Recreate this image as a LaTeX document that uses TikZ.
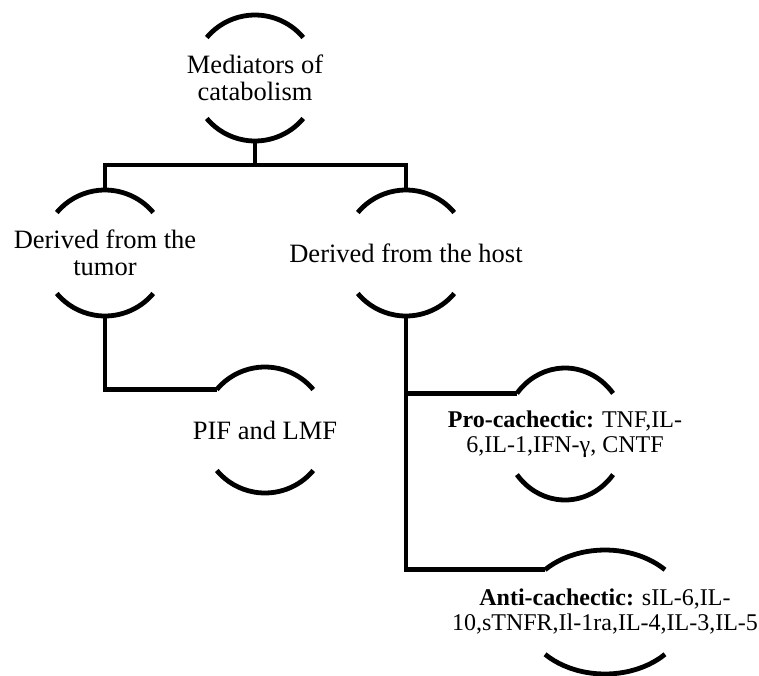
\documentclass[tikz,border=0pt]{standalone}
\usepackage{fontspec}
\setmainfont{Liberation Serif}
\usetikzlibrary{calc}

\begin{document}
\begin{tikzpicture}[x=1pt, y=1pt,
  capline/.style={line width=4.8pt},
  capnode/.style={align=center, inner sep=0pt, minimum height=126pt, font=\fontsize{26.5}{26.5}\selectfont},
  smallcap/.style={capnode, font=\fontsize{24}{25}\selectfont}]
\useasboundingbox (0,0) rectangle (759,-675);
\node[capnode] (med) at (255,-78) {Mediators of\\catabolism};
\node[capnode] (tumor) at (105,-253) {Derived from the\\tumor};
\node[capnode] (host) at (406,-253) {Derived from the host};
\node[capnode] (pif) at (265,-430) {PIF and LMF};
\node[smallcap, minimum height=132pt] (pro) at (565,-434) {\textbf{Pro-cachectic:} TNF,IL-\\6,IL-1,IFN-γ, CNTF};
\node[smallcap, minimum height=124pt] (anti) at (605,-612) {\textbf{Anti-cachectic:} sIL-6,IL-\\10,sTNFR,Il-1ra,IL-4,IL-3,IL-5};
% arcs above and below each text
\foreach \n/\rx/\ry/\a in {med/63/63/40, tumor/63/63/40, host/63/63/40, pif/63/63/40, pro/61/66/38, anti/82/62/43} {
  \coordinate (\n-tl) at ($(\n.center)+({-\rx*cos(\a)},{\ry*sin(\a)})$);
  \draw[capline] ($(\n.center)+({\rx*cos(\a)},{\ry*sin(\a)})$) arc[start angle=\a, end angle=180-\a, x radius=\rx, y radius=\ry];
  \draw[capline] ($(\n.center)+({\rx*cos(\a)},{-\ry*sin(\a)})$) arc[start angle=-\a, end angle=-180+\a, x radius=\rx, y radius=\ry];
}
\coordinate (split) at (255,-165);
\draw[capline] (med.south) -- (split);
\draw[capline] (tumor.north) |- (split) -| (host.north);
\draw[capline] (tumor.south) |- (pif-tl);
\draw[capline] (host.south) |- (pro-tl);
\draw[capline] (host.south) |- (anti-tl);
\end{tikzpicture}
\end{document}
